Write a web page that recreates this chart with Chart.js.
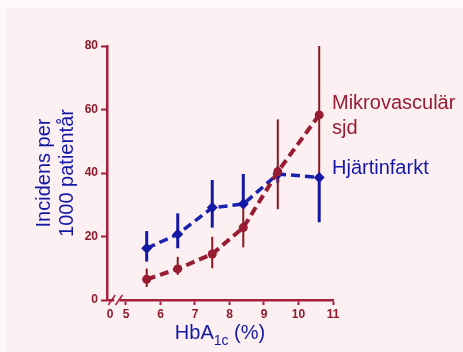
<!DOCTYPE html>
<html>
<head>
<meta charset="utf-8">
<script src="https://cdn.jsdelivr.net/npm/chart.js@4.4.0/dist/chart.umd.min.js"></script>
<style>
  html, body { margin: 0; padding: 0; background: #fefafb; }
  #wrap { position: relative; width: 463px; height: 352px; overflow: hidden; }
  #bg { position: absolute; left: 6px; top: 8px; right: 0; bottom: 0; background: #fcf0f2; }
  canvas { position: absolute; left: 0; top: 0; }
</style>
</head>
<body>
<div id="wrap"><div id="bg"></div><canvas id="grafico" width="463" height="352"></canvas></div>
<script>
// HbA1c (%) på x-axeln
const hba1c = [5.6, 6.5, 7.5, 8.4, 9.4, 10.6];

// Hjärtinfarkt (incidens per 1000 patientår) med felstaplar
const hjartinfarkt = [16.3, 20.7, 29.1, 30.2, 39.7, 38.6];
const hjartLag = [12.1, 16.3, 22.8, 29.0, 37.0, 24.5];
const hjartHog = [21.7, 27.3, 37.8, 39.7, 42.0, 39.0];

// Mikrovasculär sjd
const mikro = [6.5, 9.8, 14.5, 22.8, 40.4, 58.3];
const mikroLag = [4.1, 7.9, 10.0, 16.6, 28.6, 38.6];
const mikroHog = [9.9, 13.6, 19.9, 29.0, 56.9, 80.0];

const xTicks = [4.54, 5, 6, 7, 8, 9, 10, 11];
const yTicks = [0, 20, 40, 60, 80];

const bla = '#1418a4';
const blaLinje = '#1a22b0';
const rod = '#981c32';
const rodMork = '#8a1a22';
const axelFarg = '#a4203c';
const tickFarg = '#8c1c2c';
const typsnitt = 'Arial, "Liberation Sans", sans-serif';

const datasets = [];
datasets.push({
    label: 'Mikrovasculär sjd',
    data: hba1c.map((x, i) => ({ x: x, y: mikro[i] })),
    borderColor: rod,
    borderWidth: 4,
    borderDash: [9, 5],
    pointStyle: 'circle',
    pointRadius: 4.5,
    pointBackgroundColor: rod,
    pointBorderWidth: 0,
    order: 0
});
datasets.push({
    label: 'Hjärtinfarkt',
    data: hba1c.map((x, i) => ({ x: x, y: hjartinfarkt[i] })),
    borderColor: blaLinje,
    borderWidth: 3.5,
    borderDash: [9, 5],
    pointStyle: 'rectRot',
    pointRadius: 5.5,
    pointBackgroundColor: bla,
    pointBorderWidth: 0,
    order: 1
});
hba1c.forEach((x, i) => {
    datasets.push({
        label: 'fel mikro',
        data: [{ x: x, y: mikroLag[i] }, { x: x, y: mikroHog[i] }],
        borderColor: rodMork,
        borderWidth: 2,
        pointRadius: 0,
        order: 2
    });
    datasets.push({
        label: 'fel hjärt',
        data: [{ x: x, y: hjartLag[i] }, { x: x, y: hjartHog[i] }],
        borderColor: bla,
        borderWidth: 3,
        pointRadius: 0,
        order: 3
    });
});

// axelbrott, x-axelns titel och seriernas namn
const dekor = {
    id: 'dekor',
    afterDraw(chart) {
        const ctx = chart.ctx;
        const xs = chart.scales.x;
        const y0 = chart.scales.y.getPixelForValue(0);
        const a = xs.getPixelForValue(4.63);
        const b = xs.getPixelForValue(4.84);
        ctx.save();
        ctx.fillStyle = '#fcf0f2';
        ctx.fillRect(a + 1, y0 - 2, b - a - 2, 4);
        ctx.strokeStyle = axelFarg;
        ctx.lineWidth = 1.5;
        [a - 2, b - 2].forEach(px => {
            ctx.beginPath();
            ctx.moveTo(px - 3, y0 + 5);
            ctx.lineTo(px + 4, y0 - 5);
            ctx.stroke();
        });

        // HbA1c (%)
        const mitt = (chart.chartArea.left + chart.chartArea.right) / 2;
        const ty = 333;
        ctx.fillStyle = bla;
        ctx.textBaseline = 'middle';
        ctx.font = '20px ' + typsnitt;
        const w1 = ctx.measureText('HbA').width;
        const w3 = ctx.measureText(' (%)').width;
        ctx.font = '14px ' + typsnitt;
        const w2 = ctx.measureText('1c').width;
        let x = mitt - (w1 + w2 + w3) / 2;
        ctx.textAlign = 'left';
        ctx.font = '20px ' + typsnitt;
        ctx.fillText('HbA', x, ty);
        ctx.font = '14px ' + typsnitt;
        ctx.fillText('1c', x + w1, ty + 8);
        ctx.font = '20px ' + typsnitt;
        ctx.fillText(' (%)', x + w1 + w2, ty);

        ctx.fillStyle = rod;
        ctx.fillText('Mikrovasculär', 332, 103);
        ctx.fillText('sjd', 332, 128);
        ctx.fillStyle = bla;
        ctx.fillText('Hjärtinfarkt', 332, 168);
        ctx.restore();
    }
};

new Chart(document.getElementById('grafico'), {
    type: 'line',
    data: { datasets: datasets },
    options: {
        responsive: false,
        animation: false,
        layout: { padding: { left: 0, top: 46, right: 130, bottom: 0 } },
        elements: { line: { tension: 0 } },
        plugins: {
            legend: { display: false },
            tooltip: { enabled: false }
        },
        scales: {
            x: {
                type: 'linear',
                min: 4.45,
                max: 11,
                afterBuildTicks: s => { s.ticks = xTicks.map(v => ({ value: v })); },
                afterFit: s => { s.height = 52; s.paddingLeft = 0; s.paddingRight = 0; },
                ticks: {
                    callback: v => v < 5 ? '0' : String(v),
                    color: tickFarg,
                    font: { family: typsnitt, size: 12, weight: 'bold' },
                    padding: 2,
                    maxRotation: 0,
                    autoSkip: false
                },
                grid: {
                    drawOnChartArea: false,
                    tickLength: 5,
                    tickWidth: 2,
                    tickColor: c => (c.tick && c.tick.value < 5) ? 'rgba(0,0,0,0)' : axelFarg
                },
                border: { color: axelFarg, width: 2.5 }
            },
            y: {
                min: 0,
                max: 80,
                afterBuildTicks: s => { s.ticks = yTicks.map(v => ({ value: v })); },
                afterFit: s => { s.width = 107; s.paddingTop = 0; s.paddingBottom = 0; },
                ticks: {
                    color: tickFarg,
                    font: { family: typsnitt, size: 12, weight: 'bold' },
                    padding: 3
                },
                grid: {
                    drawOnChartArea: false,
                    tickLength: 6,
                    tickWidth: 2,
                    tickColor: axelFarg
                },
                border: { color: axelFarg, width: 2.5 },
                title: {
                    display: true,
                    text: ['Incidens per', '1000 patientår'],
                    color: bla,
                    font: { family: typsnitt, size: 20, lineHeight: 1.15 },
                    padding: { top: 33, bottom: 0 }
                }
            }
        }
    },
    plugins: [dekor]
});
</script>
</body>
</html>
